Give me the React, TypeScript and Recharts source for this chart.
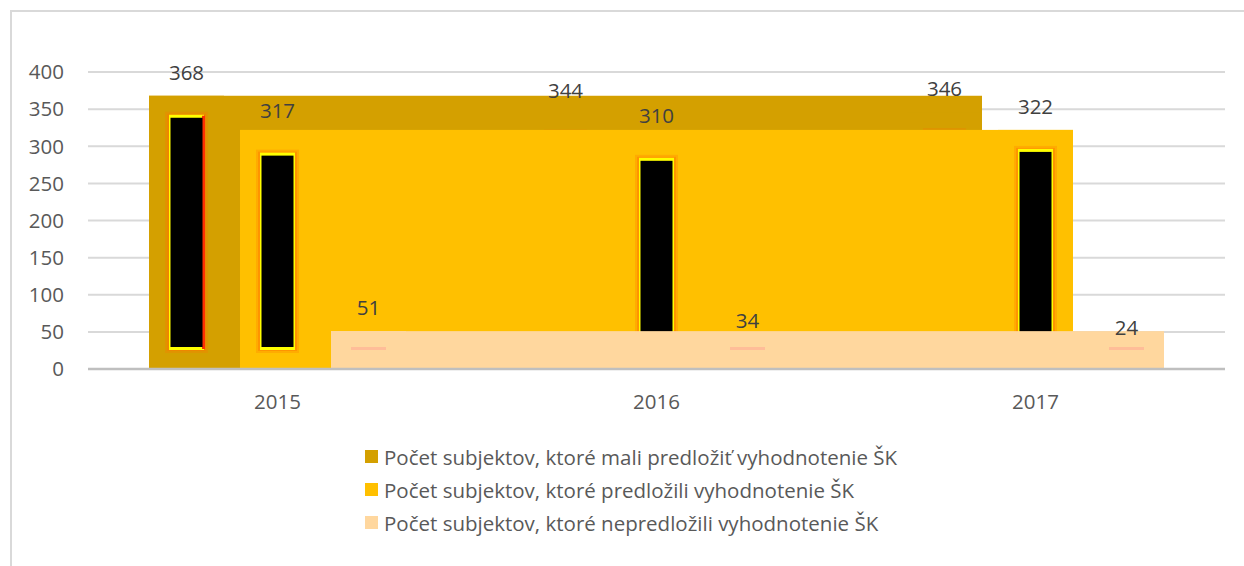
import { Bar, BarChart, CartesianGrid, LabelList, Legend, XAxis, YAxis } from "recharts";

const YEARS = ["2015", "2016", "2017"];
const SHOULD_SUBMIT = [368, 344, 346];
const SUBMITTED = [317, 310, 322];
const NOT_SUBMITTED = [51, 34, 24];
const Y_TICKS = [0, 50, 100, 150, 200, 250, 300, 350, 400];

const SERIES = [
  { key: "should", name: "Počet subjektov, ktoré mali predložiť vyhodnotenie ŠK", color: "#D4A000", values: SHOULD_SUBMIT },
  { key: "submitted", name: "Počet subjektov, ktoré predložili vyhodnotenie ŠK", color: "#FFC000", values: SUBMITTED },
  { key: "missing", name: "Počet subjektov, ktoré nepredložili vyhodnotenie ŠK", color: "#FFD79E", values: NOT_SUBMITTED },
];

const data = YEARS.map((year, i) => ({
  year,
  should: SHOULD_SUBMIT[i],
  submitted: SUBMITTED[i],
  missing: NOT_SUBMITTED[i],
}));

const W = 1244;
const H = 566;
const MARGIN = { top: 72, right: 19, bottom: 157, left: 28 };
const Y_AXIS_W = 60;
const BAND = (W - MARGIN.left - MARGIN.right - Y_AXIS_W) / YEARS.length;
const FONT = "'Open Sans', 'Noto Sans', sans-serif";
const FONT_SIZE = 20.5;
const INSET = 20;

// Excel rendered this one oddly: each series got a slab from its first bar to its last,
// and the bars themselves show a black core with a glowing rim.
function makeShape(key: string, color: string, values: number[], redEdge: boolean) {
  const max = Math.max(...values);
  return (props: any) => {
    const { x, y, width, height, index, payload } = props;
    const v = payload[key];
    const base = y + height;
    const perUnit = v > 0 ? height / v : 0;
    const slabTop = base - max * perUnit;
    const innerH = height - INSET * 2;
    return (
      <g>
        {index === 0 && (
          <rect x={x} y={slabTop} width={width + BAND * (values.length - 1)} height={base - slabTop} fill={color} />
        )}
        <rect x={x} y={y} width={width} height={height} fill={color} />
        {innerH > 2 ? (
          <g>
            <rect x={x + INSET - 4} y={y + INSET - 4} width={width - INSET * 2 + 8} height={innerH + 8} fill="rgba(255,110,0,0.25)" />
            <rect x={x + INSET - 2} y={y + INSET - 2} width={width - INSET * 2 + 4} height={innerH + 4} fill="rgba(255,120,0,0.45)" />
            <rect x={x + INSET} y={y + INSET - 1} width={width - INSET * 2} height={innerH + 2} fill="#FFFF00" />
            {redEdge && <rect x={x + width - INSET - 2} y={y + INSET} width={3} height={innerH} fill="#FF3000" />}
            <rect x={x + INSET + 1.5} y={y + INSET + 2} width={width - INSET * 2 - 3} height={innerH - 4} fill="#000" />
          </g>
        ) : (
          <rect x={x + INSET} y={base - INSET - 2} width={width - INSET * 2} height={3} fill="rgba(255,140,140,0.35)" />
        )}
      </g>
    );
  };
}

function LegendBox() {
  return (
    <div style={{ fontFamily: FONT, fontSize: FONT_SIZE, color: "#595959" }}>
      {SERIES.map((s) => (
        <div key={s.key} style={{ display: "flex", alignItems: "center", height: 33, whiteSpace: "nowrap" }}>
          <span style={{ display: "inline-block", width: 13, height: 13, background: s.color, marginRight: 6 }} />
          {s.name}
        </div>
      ))}
    </div>
  );
}

export default function App() {
  return (
    <div style={{ position: "absolute", left: 0, top: 0, width: W, height: H, background: "#fff" }}>
      <div
        style={{
          position: "absolute",
          left: 10,
          top: 10,
          right: 0,
          bottom: 0,
          borderTop: "2px solid #D9D9D9",
          borderLeft: "2px solid #D9D9D9",
        }}
      />
      <BarChart width={W} height={H} data={data} margin={MARGIN} barSize={75} barGap={16}>
        <CartesianGrid vertical={false} stroke="#D9D9D9" strokeWidth={2} />
        <XAxis
          dataKey="year"
          tickLine={false}
          tickSize={0}
          tickMargin={25}
          axisLine={{ stroke: "#BFBFBF", strokeWidth: 2.5 }}
          tick={{ fontSize: FONT_SIZE, fill: "#595959", fontFamily: FONT }}
          height={40}
        />
        <YAxis
          domain={[0, 400]}
          ticks={Y_TICKS}
          width={Y_AXIS_W}
          axisLine={false}
          tickLine={false}
          tickSize={0}
          tickMargin={24}
          tick={{ fontSize: FONT_SIZE, fill: "#595959", fontFamily: FONT }}
        />
        <Legend
          layout="vertical"
          align="center"
          verticalAlign="middle"
          wrapperStyle={{ left: 365, top: 440, width: 640 }}
          content={() => <LegendBox />}
        />
        {SERIES.map((s, i) => (
          <Bar
            key={s.key}
            dataKey={s.key}
            name={s.name}
            fill={s.color}
            isAnimationActive={false}
            shape={makeShape(s.key, s.color, s.values, i === 0)}
          >
            <LabelList
              dataKey={s.key}
              position="top"
              offset={16}
              style={{ fontSize: FONT_SIZE, fill: "#404040", fontFamily: FONT }}
            />
          </Bar>
        ))}
      </BarChart>
    </div>
  );
}
